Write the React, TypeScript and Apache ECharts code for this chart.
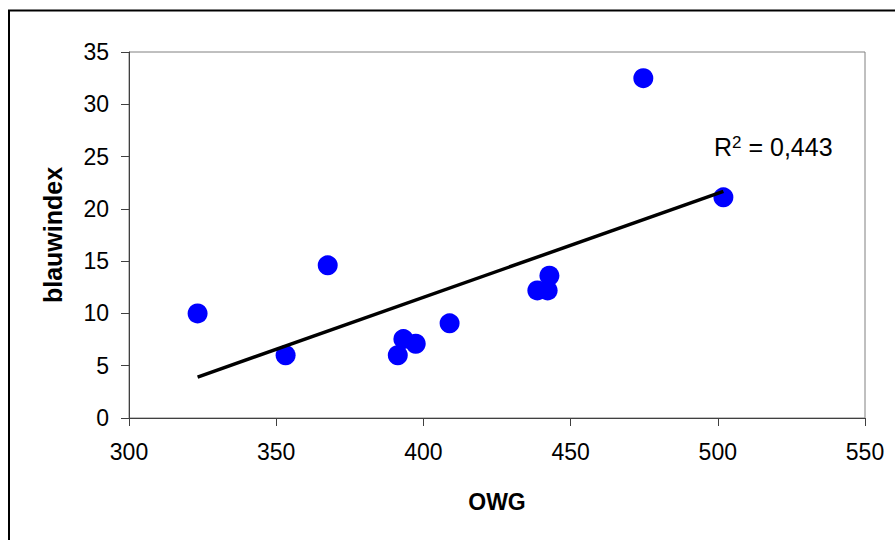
import React, { useEffect, useRef } from "react";
import * as echarts from "echarts";

const owg: number[] = [323.3, 353.2, 367.5, 391.3, 393.2, 397.4, 408.9, 438.7, 442.2, 442.8, 474.7, 501.9];
const blauwindex: number[] = [10.0, 6.0, 14.6, 6.0, 7.55, 7.1, 9.05, 12.2, 12.2, 13.6, 32.5, 21.1];
const xAxisTitle = "OWG";
const yAxisTitle = "blauwindex";
const r2Label = "0,443";

function trend(xs: number[], ys: number[]) {
  const n = xs.length;
  const mx = xs.reduce((a, b) => a + b, 0) / n;
  const my = ys.reduce((a, b) => a + b, 0) / n;
  let sxy = 0, sxx = 0;
  for (let i = 0; i < n; i++) {
    sxy += (xs[i] - mx) * (ys[i] - my);
    sxx += (xs[i] - mx) * (xs[i] - mx);
  }
  const b = sxy / sxx;
  const a = my - b * mx;
  const x0 = Math.min(...xs);
  const x1 = Math.max(...xs);
  return [[x0, a + b * x0], [x1, a + b * x1]];
}

export default function App() {
  const ref = useRef<HTMLDivElement>(null);
  useEffect(() => {
    if (!ref.current) return;
    const chart = echarts.init(ref.current, null, { renderer: "svg" });
    const font = "Arial, 'Liberation Sans', sans-serif";
    chart.setOption({
      animation: false,
      backgroundColor: "#ffffff",
      grid: {
        left: 129,
        top: 52,
        right: 30,
        bottom: 122,
        show: true,
        borderColor: "#808080",
        borderWidth: 1,
        backgroundColor: "transparent",
      },
      xAxis: {
        type: "value",
        min: 300,
        max: 550,
        interval: 50,
        name: xAxisTitle,
        nameLocation: "middle",
        nameGap: 72,
        nameTextStyle: { fontFamily: font, fontSize: 23, fontWeight: "bold", color: "#000" },
        axisLine: { show: true, onZero: false, lineStyle: { color: "#404040", width: 1 } },
        axisTick: { show: true, inside: false, length: 8, lineStyle: { color: "#404040" } },
        axisLabel: { margin: 22, fontFamily: font, fontSize: 23, color: "#000" },
        splitLine: { show: false },
      },
      yAxis: {
        type: "value",
        min: 0,
        max: 35,
        interval: 5,
        name: yAxisTitle,
        nameLocation: "middle",
        nameRotate: 90,
        nameGap: 64,
        nameTextStyle: { fontFamily: font, fontSize: 25, fontWeight: "bold", color: "#000" },
        axisLine: { show: true, onZero: false, lineStyle: { color: "#404040", width: 1 } },
        axisTick: { show: true, inside: false, length: 8, lineStyle: { color: "#404040" } },
        axisLabel: { margin: 20, fontFamily: font, fontSize: 23, color: "#000" },
        splitLine: { show: false },
      },
      graphic: [
        {
          type: "rect",
          shape: { x: 9, y: 10.5, width: 900, height: 560 },
          style: { fill: "none", stroke: "#000", lineWidth: 2 },
          silent: true,
          z: 100,
        },
        {
          type: "text",
          left: 714,
          top: 134,
          style: {
            text: "{r|R}{s|2}{r| = " + r2Label + "}",
            fontFamily: font,
            rich: {
              r: { fontFamily: font, fontSize: 25, lineHeight: 25, verticalAlign: "bottom", fill: "#000" },
              s: { fontFamily: font, fontSize: 17, lineHeight: 17, verticalAlign: "top", fill: "#000" },
            },
          },
        },
      ],
      series: [
        {
          type: "scatter",
          data: owg.map((x, i) => [x, blauwindex[i]]),
          symbol: "circle",
          symbolSize: 20,
          itemStyle: { color: "#0000FF", opacity: 1 },
          z: 2,
        },
        {
          type: "line",
          data: trend(owg, blauwindex),
          symbol: "none",
          lineStyle: { color: "#000", width: 3.5 },
          z: 3,
        },
      ],
    });
    return () => chart.dispose();
  }, []);
  return (
    <div
      ref={ref}
      style={{ position: "absolute", left: 0, top: 0, width: 895, height: 540 }}
    />
  );
}
